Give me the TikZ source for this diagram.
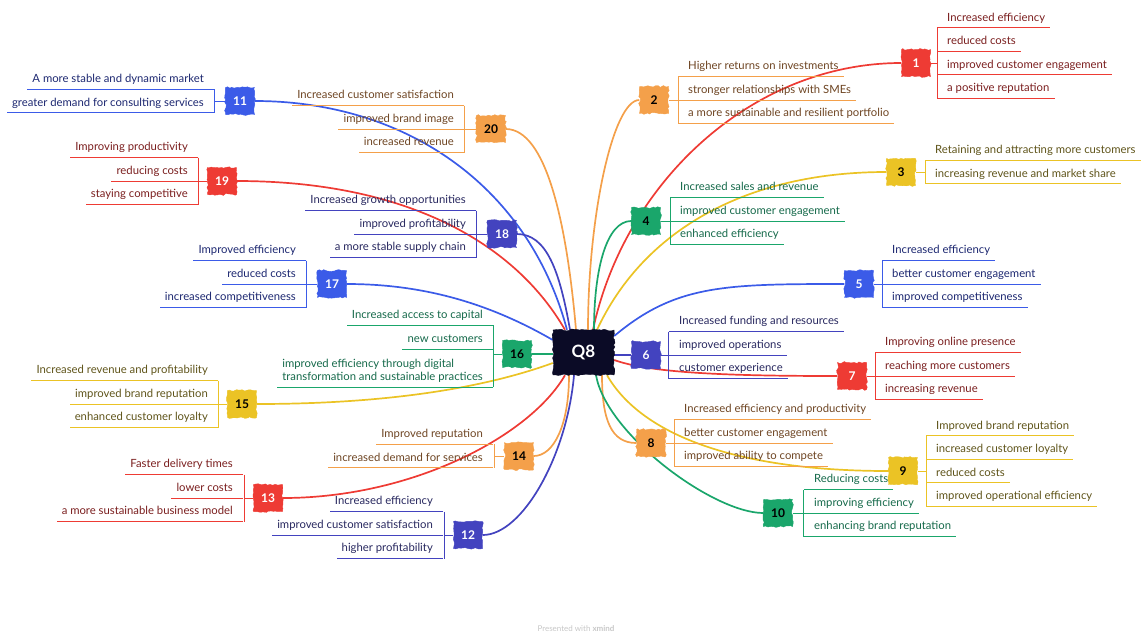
\documentclass[tikz,border=0pt]{standalone}
\usepackage{fontspec}
\setmainfont{Lato}
\usetikzlibrary{backgrounds, decorations.pathmorphing}

\definecolor{rd}{HTML}{EE3B34}
\definecolor{rdtx}{HTML}{7A1E1E}
\definecolor{og}{HTML}{F4A04A}
\definecolor{ogtx}{HTML}{6E4523}
\definecolor{yw}{HTML}{EBC325}
\definecolor{ywtx}{HTML}{5F541A}
\definecolor{gn}{HTML}{1AA66B}
\definecolor{gntx}{HTML}{15694A}
\definecolor{bl}{HTML}{3B5BE8}
\definecolor{bltx}{HTML}{1C2770}
\definecolor{ig}{HTML}{4343BF}
\definecolor{igtx}{HTML}{28285F}
\definecolor{rootbg}{HTML}{0B0B26}

\begin{document}
\pgfmathsetseed{7}
\begin{tikzpicture}[
    x=1pt, y=-1pt,
    every node/.style={font=\fontsize{11.3}{13}\selectfont},
    rough/.style={decorate, decoration={random steps, segment length=2.5pt, amplitude=0.9pt}},
    root/.style={rough, fill=rootbg, draw=rootbg, text=white, minimum width=61pt,
      minimum height=45pt, font=\fontsize{17}{17}\selectfont\bfseries},
    badge/.style={rough, fill=#1, draw=#1, minimum width=29pt, minimum height=27pt,
      inner sep=0pt, font=\fontsize{12}{12}\selectfont\bfseries},
    twig/.style={draw=#1, line width=1pt},
    link/.style={draw=#1, line width=1.7pt},
    leafR/.style={anchor=south west, inner xsep=0pt, inner ysep=0pt, text depth=6.5pt,
      text=#1tx, append after command={(\tikzlastnode.south west)
        edge[twig=#1, shorten <=-10pt, shorten >=-5pt] (\tikzlastnode.south east)}},
    leafL/.style={anchor=south east, inner xsep=0pt, inner ysep=0pt, text depth=6.5pt,
      text=#1tx, append after command={(\tikzlastnode.south east)
        edge[twig=#1, shorten <=-10pt, shorten >=-5pt] (\tikzlastnode.south west)}}
  ]
  \useasboundingbox (0,0) rectangle (1142,635);

  % Centre topic
  \node[root] (q8) at (583.5,352.5) {Q8};

  % Right half: 1 to 10
  \node[badge=rd, text=white] (b1) at (916,63) {1};
  \coordinate (k1) at (937,63);
  \node[leafR=rd] (l1a) at (947,27.75) {Increased efficiency};
  \node[leafR=rd] (l1b) at (947,51.25) {reduced costs};
  \node[leafR=rd] (l1c) at (947,74.75) {improved customer engagement};
  \node[leafR=rd] (l1d) at (947,98.25) {a positive reputation};

  \node[badge=og] (b2) at (654,100) {2};
  \coordinate (k2) at (678,100);
  \node[leafR=og] (l2a) at (688,76.5) {Higher returns on investments};
  \node[leafR=og] (l2b) at (688,100) {stronger relationships with SMEs};
  \node[leafR=og] (l2c) at (688,123.5) {a more sustainable and resilient portfolio};

  \node[badge=yw] (b3) at (901,172) {3};
  \coordinate (k3) at (925,172);
  \node[leafR=yw] (l3a) at (935,160.25) {Retaining and attracting more customers};
  \node[leafR=yw] (l3b) at (935,183.75) {increasing revenue and market share};

  \node[badge=gn] (b4) at (646,221) {4};
  \coordinate (k4) at (670,221);
  \node[leafR=gn] (l4a) at (680,197.5) {Increased sales and revenue};
  \node[leafR=gn] (l4b) at (680,221) {improved customer engagement};
  \node[leafR=gn] (l4c) at (680,244.5) {enhanced efficiency};

  \node[badge=bl, text=white] (b5) at (859,284) {5};
  \coordinate (k5) at (882,284);
  \node[leafR=bl] (l5a) at (892,260.5) {Increased efficiency};
  \node[leafR=bl] (l5b) at (892,284) {better customer engagement};
  \node[leafR=bl] (l5c) at (892,307.5) {improved competitiveness};

  \node[badge=ig, text=white] (b6) at (646,355) {6};
  \coordinate (k6) at (668,355);
  \node[leafR=ig] (l6a) at (679,331.5) {Increased funding and resources};
  \node[leafR=ig] (l6b) at (679,355) {improved operations};
  \node[leafR=ig] (l6c) at (679,378.5) {customer experience};

  \node[badge=rd, text=white] (b7) at (852,376) {7};
  \coordinate (k7) at (875,376);
  \node[leafR=rd] (l7a) at (885,352.5) {Improving online presence};
  \node[leafR=rd] (l7b) at (885,376) {reaching more customers};
  \node[leafR=rd] (l7c) at (885,399.5) {increasing revenue};

  \node[badge=og] (b8) at (651,443) {8};
  \coordinate (k8) at (674,443);
  \node[leafR=og] (l8a) at (684,419.5) {Increased efficiency and productivity};
  \node[leafR=og] (l8b) at (684,443) {better customer engagement};
  \node[leafR=og] (l8c) at (684,466.5) {improved ability to compete};

  \node[badge=yw] (b9) at (903,471) {9};
  \coordinate (k9) at (926,471);
  \node[leafR=yw] (l9a) at (936,435.75) {Improved brand reputation};
  \node[leafR=yw] (l9b) at (936,459.25) {increased customer loyalty};
  \node[leafR=yw] (l9c) at (936,482.75) {reduced costs};
  \node[leafR=yw] (l9d) at (936,506.25) {improved operational efficiency};

  \node[badge=gn] (b10) at (778,513) {10};
  \coordinate (k10) at (803,513);
  \node[leafR=gn] (l10a) at (814,489.5) {Reducing costs};
  \node[leafR=gn] (l10b) at (814,513) {improving efficiency};
  \node[leafR=gn] (l10c) at (814,536.5) {enhancing brand reputation};

  % Left half: 11 to 20
  \node[badge=bl, text=white] (b11) at (240,101) {11};
  \coordinate (k11) at (214,101);
  \node[leafL=bl] (l11a) at (204,89.25) {A more stable and dynamic market};
  \node[leafL=bl] (l11b) at (204,112.75) {greater demand for consulting services};

  \node[badge=ig, text=white] (b12) at (468,535) {12};
  \coordinate (k12) at (444,535);
  \node[leafL=ig] (l12a) at (433,511.5) {Increased efficiency};
  \node[leafL=ig] (l12b) at (433,535) {improved customer satisfaction};
  \node[leafL=ig] (l12c) at (433,558.5) {higher profitability};

  \node[badge=rd, text=white] (b13) at (268,498) {13};
  \coordinate (k13) at (244,498);
  \node[leafL=rd] (l13a) at (233,474.5) {Faster delivery times};
  \node[leafL=rd] (l13b) at (233,498) {lower costs};
  \node[leafL=rd] (l13c) at (233,521.5) {a more sustainable business model};

  \node[badge=og] (b14) at (519,456) {14};
  \coordinate (k14) at (494,456);
  \node[leafL=og] (l14a) at (483,444.25) {Improved reputation};
  \node[leafL=og] (l14b) at (483,467.75) {increased demand for services};

  \node[badge=yw] (b15) at (242,404) {15};
  \coordinate (k15) at (218,404);
  \node[leafL=yw] (l15a) at (208,380.5) {Increased revenue and profitability};
  \node[leafL=yw] (l15b) at (208,404) {improved brand reputation};
  \node[leafL=yw] (l15c) at (208,427.5) {enhanced customer loyalty};

  \node[badge=gn] (b16) at (517,354) {16};
  \coordinate (k16) at (493,354);
  \node[leafL=gn] (l16a) at (483,325) {Increased access to capital};
  \node[leafL=gn] (l16b) at (483,349) {new customers};
  \node[leafL=gn, align=left] (l16c) at (483,387)
    {improved efficiency through digital\\transformation and sustainable practices};

  \node[badge=bl, text=white] (b17) at (332,284) {17};
  \coordinate (k17) at (306,284);
  \node[leafL=bl] (l17a) at (296,260.5) {Improved efficiency};
  \node[leafL=bl] (l17b) at (296,284) {reduced costs};
  \node[leafL=bl] (l17c) at (296,307.5) {increased competitiveness};

  \node[badge=ig, text=white] (b18) at (502,234) {18};
  \coordinate (k18) at (476,234);
  \node[leafL=ig] (l18a) at (466,210.5) {Increased growth opportunities};
  \node[leafL=ig] (l18b) at (466,234) {improved profitability};
  \node[leafL=ig] (l18c) at (466,257.5) {a more stable supply chain};

  \node[badge=rd, text=white] (b19) at (222,181) {19};
  \coordinate (k19) at (198,181);
  \node[leafL=rd] (l19a) at (188,157.5) {Improving productivity};
  \node[leafL=rd] (l19b) at (188,181) {reducing costs};
  \node[leafL=rd] (l19c) at (188,204.5) {staying competitive};

  \node[badge=og] (b20) at (491,129) {20};
  \coordinate (k20) at (464,129);
  \node[leafL=og] (l20a) at (454,105.5) {Increased customer satisfaction};
  \node[leafL=og] (l20b) at (454,129) {improved brand image};
  \node[leafL=og] (l20c) at (454,152.5) {increased revenue};

  % Brackets
  \draw[twig=rd] (b1) -- (k1);  \draw[twig=rd] (k1 |- l1a.south) -- (k1 |- l1d.south);
  \draw[twig=og] (b2) -- (k2);  \draw[twig=og] (k2 |- l2a.south) -- (k2 |- l2c.south);
  \draw[twig=yw] (b3) -- (k3);  \draw[twig=yw] (k3 |- l3a.south) -- (k3 |- l3b.south);
  \draw[twig=gn] (b4) -- (k4);  \draw[twig=gn] (k4 |- l4a.south) -- (k4 |- l4c.south);
  \draw[twig=bl] (b5) -- (k5);  \draw[twig=bl] (k5 |- l5a.south) -- (k5 |- l5c.south);
  \draw[twig=ig] (b6) -- (k6);  \draw[twig=ig] (k6 |- l6a.south) -- (k6 |- l6c.south);
  \draw[twig=rd] (b7) -- (k7);  \draw[twig=rd] (k7 |- l7a.south) -- (k7 |- l7c.south);
  \draw[twig=og] (b8) -- (k8);  \draw[twig=og] (k8 |- l8a.south) -- (k8 |- l8c.south);
  \draw[twig=yw] (b9) -- (k9);  \draw[twig=yw] (k9 |- l9a.south) -- (k9 |- l9d.south);
  \draw[twig=gn] (b10) -- (k10); \draw[twig=gn] (k10 |- l10a.south) -- (k10 |- l10c.south);
  \draw[twig=bl] (b11) -- (k11); \draw[twig=bl] (k11 |- l11a.south) -- (k11 |- l11b.south);
  \draw[twig=ig] (b12) -- (k12); \draw[twig=ig] (k12 |- l12a.south) -- (k12 |- l12c.south);
  \draw[twig=rd] (b13) -- (k13); \draw[twig=rd] (k13 |- l13a.south) -- (k13 |- l13c.south);
  \draw[twig=og] (b14) -- (k14); \draw[twig=og] (k14 |- l14a.south) -- (k14 |- l14b.south);
  \draw[twig=yw] (b15) -- (k15); \draw[twig=yw] (k15 |- l15a.south) -- (k15 |- l15c.south);
  \draw[twig=gn] (b16) -- (k16); \draw[twig=gn] (k16 |- l16a.south) -- (k16 |- l16c.south);
  \draw[twig=bl] (b17) -- (k17); \draw[twig=bl] (k17 |- l17a.south) -- (k17 |- l17c.south);
  \draw[twig=ig] (b18) -- (k18); \draw[twig=ig] (k18 |- l18a.south) -- (k18 |- l18c.south);
  \draw[twig=rd] (b19) -- (k19); \draw[twig=rd] (k19 |- l19a.south) -- (k19 |- l19c.south);
  \draw[twig=og] (b20) -- (k20); \draw[twig=og] (k20 |- l20a.south) -- (k20 |- l20c.south);

  % Curved links from the centre topic
  \begin{scope}[on background layer]
    \draw[link=rd] ([xshift=9.5pt]q8.north) to[out=78, in=180, out distance=150pt, in distance=150pt] (b1.west);
    \draw[link=og] ([xshift=4.5pt]q8.north) to[out=90, in=180, out distance=115pt, in distance=26pt] (b2.west);
    \draw[link=yw] ([xshift=13.5pt]q8.north) to[out=65, in=180, out distance=110pt, in distance=140pt] (b3.west);
    \draw[link=gn] ([xshift=10.5pt]q8.north) to[out=90, in=180, out distance=60pt, in distance=25pt] (b4.west);
    \draw[link=bl] ([yshift=16.5pt]q8.east) to[out=40, in=180, out distance=80pt, in distance=120pt] (b5.west);
    \draw[link=ig] (q8.east |- b6) -- (b6);
    \draw[link=rd] ([yshift=-7.5pt]q8.east) to[out=-20, in=180, out distance=40pt, in distance=100pt] (b7.west);
    \draw[link=og] ([xshift=18.5pt]q8.south) to[out=-90, in=180, out distance=45pt, in distance=25pt] (b8.west);
    \draw[link=yw] ([xshift=23.5pt]q8.south) to[out=-60, in=180, out distance=70pt, in distance=150pt] (b9.west);
    \draw[link=gn] ([xshift=12.5pt]q8.south) to[out=-80, in=180, out distance=60pt, in distance=50pt] (b10.west);
    \draw[link=bl] ([xshift=-16.5pt]q8.north) to[out=105, in=0, out distance=150pt, in distance=150pt] (b11.east);
    \draw[link=ig] ([xshift=-9.5pt]q8.south) to[out=-95, in=0, out distance=80pt, in distance=40pt] (b12.east);
    \draw[link=rd] ([xshift=-18.5pt]q8.south) to[out=-120, in=0, out distance=70pt, in distance=130pt] (b13.east);
    \draw[link=og] ([xshift=-14.5pt]q8.south) to[out=-90, in=0, out distance=50pt, in distance=20pt] (b14.east);
    \draw[link=yw] ([yshift=-10.5pt]q8.west) to[out=200, in=0, out distance=80pt, in distance=120pt] (b15.east);
    \draw[link=gn] (q8.west |- b16) -- (b16);
    \draw[link=bl] ([yshift=12.5pt]q8.west) to[out=150, in=0, out distance=70pt, in distance=80pt] (b17.east);
    \draw[link=ig] ([xshift=-13.5pt]q8.north) to[out=100, in=0, out distance=60pt, in distance=30pt] (b18.east);
    \draw[link=rd] ([xshift=-18.5pt]q8.north) to[out=120, in=0, out distance=100pt, in distance=170pt] (b19.east);
    \draw[link=og] ([xshift=-7.5pt]q8.north) to[out=95, in=0, out distance=110pt, in distance=40pt] (b20.east);
  \end{scope}

  \node[text=black!22, font=\fontsize{8}{8}\selectfont] (credit) at (576,629) {Presented with \textbf{xmind}};
\end{tikzpicture}
\end{document}
